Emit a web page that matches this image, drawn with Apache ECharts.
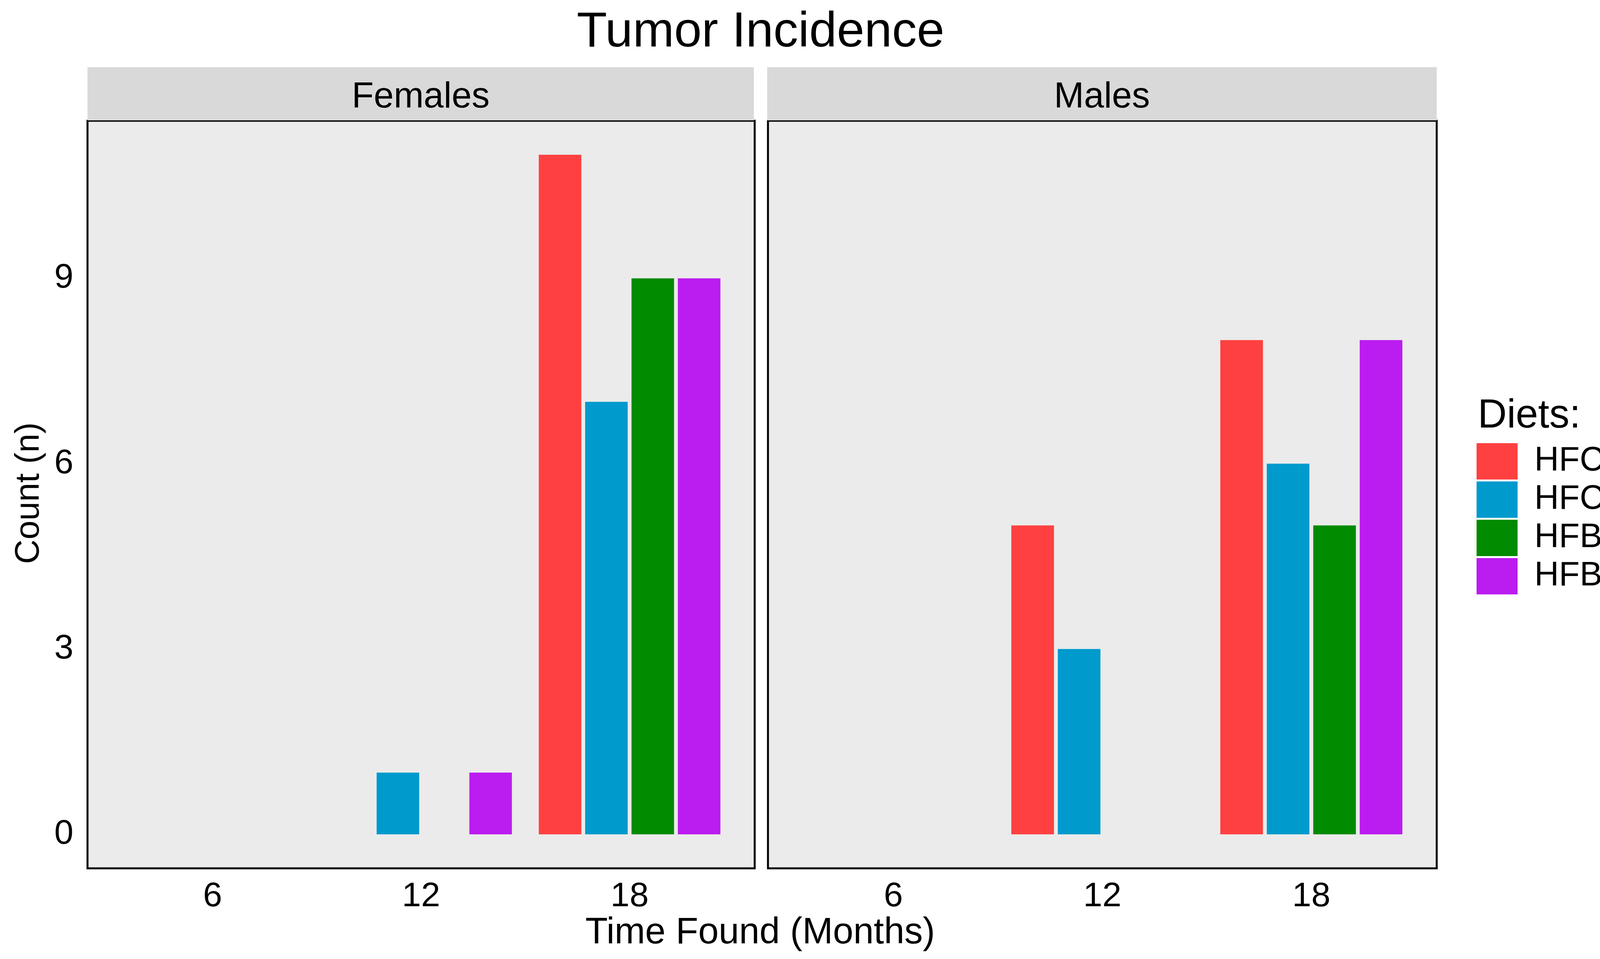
<!DOCTYPE html>
<html>
<head>
<meta charset="utf-8">
<script src="https://cdn.jsdelivr.net/npm/echarts@6/dist/echarts.min.js"></script>
<style>
html,body{margin:0;padding:0;background:#fff;}
#chart{width:4199px;height:2454px;}
</style>
</head>
<body>
<div id="chart"></div>
<script>
const months = ['6', '12', '18'];
const diets = ['HFC', 'HFCN', 'HFB', 'HFBN'];
const panels = ['Females', 'Males'];
const yTicks = [0, 3, 6, 9];

const femaleHFC  = [0, 0, 11];
const femaleHFCN = [0, 1, 7];
const femaleHFB  = [0, 0, 9];
const femaleHFBN = [0, 1, 9];

const maleHFC  = [0, 5, 8];
const maleHFCN = [0, 3, 6];
const maleHFB  = [0, 0, 5];
const maleHFBN = [0, 0, 8];

const dietColors = ['#FF4040', '#009ACD', '#008B00', '#BB1CEF'];

const panelValues = [
  [femaleHFC, femaleHFCN, femaleHFB, femaleHFBN],
  [maleHFC, maleHFCN, maleHFB, maleHFBN]
];

const FONT = '"Liberation Sans", Arial, sans-serif';

const panelGrids = [
  {left: 224, top: 309, width: 1708, height: 1913},
  {left: 1966, top: 309, width: 1712, height: 1913}
];
const stripGrids = [
  {left: 224, top: 172, width: 1706, height: 136},
  {left: 1964, top: 172, width: 1714, height: 136}
];

const grid = [];
panelGrids.forEach(g => grid.push(Object.assign({
  show: true, backgroundColor: '#EBEBEB', borderColor: '#000', borderWidth: 5, containLabel: false
}, g)));
stripGrids.forEach(g => grid.push(Object.assign({
  show: true, backgroundColor: '#D9D9D9', borderWidth: 0, containLabel: false
}, g)));

const xAxis = [];
const yAxis = [];
panels.forEach((p, i) => {
  xAxis.push({
    type: 'value', gridIndex: i, min: 0.4, max: 3.6,
    axisLine: {show: false}, axisTick: {show: false}, splitLine: {show: false},
    axisLabel: {
      customValues: months.map((m, k) => k + 1),
      formatter: v => months[Math.round(v) - 1] || '',
      fontSize: 88, color: '#000', fontFamily: FONT, margin: 29
    }
  });
  yAxis.push({
    type: 'value', gridIndex: i, min: -0.55, max: 11.55,
    axisLine: {show: false}, axisTick: {show: false}, splitLine: {show: false},
    axisLabel: {
      show: i === 0,
      customValues: yTicks,
      fontSize: 88, color: '#000', fontFamily: FONT, margin: 36
    }
  });
});
// strip axes (hidden)
panels.forEach((p, i) => {
  xAxis.push({type: 'category', gridIndex: 2 + i, data: [p], show: false});
  yAxis.push({type: 'value', gridIndex: 2 + i, show: false});
});

const series = [];
panels.forEach((p, pi) => {
  diets.forEach((d, di) => {
    series.push({
      type: 'bar',
      name: d,
      xAxisIndex: pi,
      yAxisIndex: pi,
      barWidth: '20.4%',
      barGap: '9%',
      itemStyle: {color: dietColors[di]},
      data: panelValues[pi][di].map((v, k) => [k + 1, v])
    });
  });
});

function txt(text, x, y, size, align, rotation) {
  const el = {type: 'text', x: x, y: y, style: {
    text: text, font: size + 'px ' + FONT, fill: '#000',
    align: align, verticalAlign: 'middle', textAlign: align, textVerticalAlign: 'middle'
  }};
  if (rotation) el.rotation = rotation;
  return el;
}

const graphic = [
  txt('Tumor Incidence', 1947, 84, 127, 'center'),
  txt('Time Found (Months)', 1946, 2388, 94, 'center'),
  txt('Count (n)', 75, 1262, 87, 'center', Math.PI / 2),
  txt('Diets:', 3783, 1066, 103, 'left')
];
panels.forEach((p, i) => {
  const g = stripGrids[i];
  graphic.push(txt(p, g.left + g.width / 2, 250, 92, 'center'));
});

const chart = echarts.init(document.getElementById('chart'), null, {renderer: 'canvas'});
chart.setOption({
  backgroundColor: '#ffffff',
  animation: false,
  grid: grid,
  xAxis: xAxis,
  yAxis: yAxis,
  legend: {
    data: diets,
    orient: 'vertical',
    left: 3780, top: 1134,
    itemWidth: 105, itemHeight: 93, itemGap: 5,
    padding: 0,
    icon: 'rect',
    textStyle: {fontSize: 87, color: '#000', fontFamily: FONT, padding: [0, 0, 0, 38]}
  },
  graphic: graphic,
  series: series
});
</script>
</body>
</html>
